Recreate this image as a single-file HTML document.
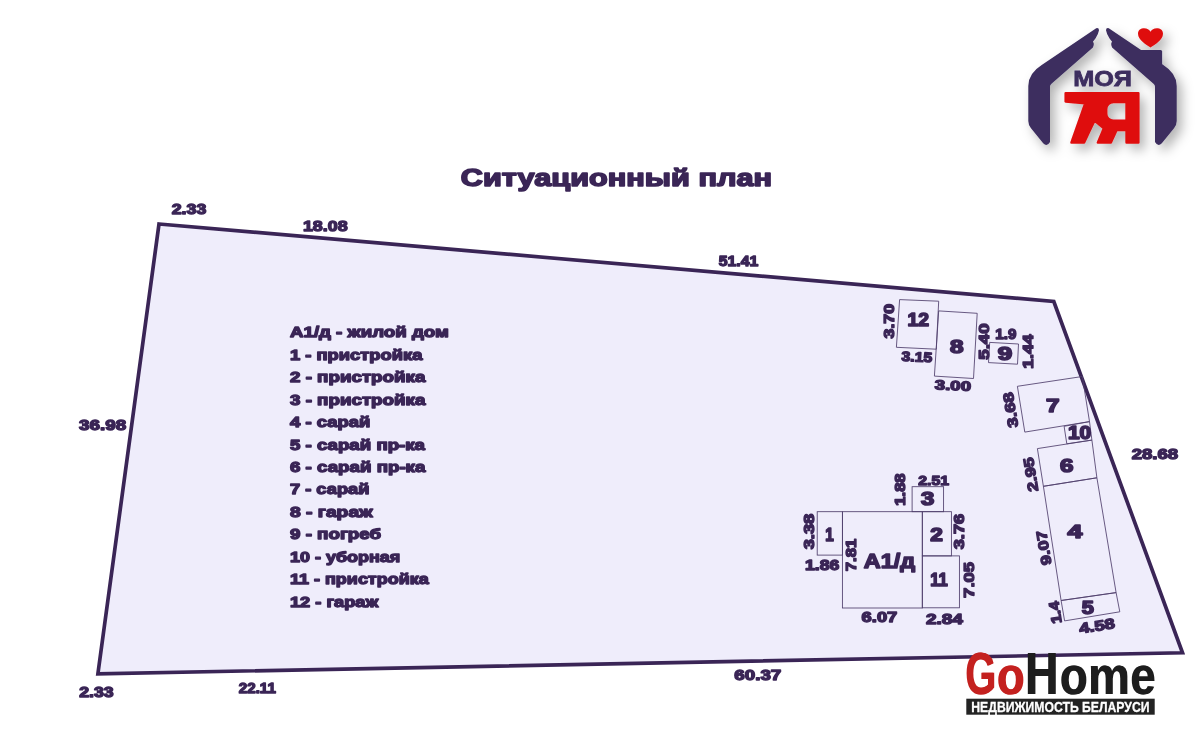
<!DOCTYPE html>
<html lang="ru"><head><meta charset="utf-8"><title>Ситуационный план</title>
<style>
html,body{margin:0;padding:0;background:#fff;}
body{width:1200px;height:742px;overflow:hidden;font-family:"Liberation Sans",sans-serif;}
svg{display:block;position:absolute;left:0;top:0;will-change:transform;}
text{font-family:"Liberation Sans",sans-serif;font-weight:bold;}
.t{fill:#3a2556;stroke:#3a2556;stroke-linejoin:round;paint-order:stroke;}
.b{fill:none;stroke:#4f3f6c;stroke-width:0.85;}
</style></head><body>
<svg width="1200" height="742" viewBox="0 0 1200 742">

<polygon points="159,224 1053.8,301.5 1182.5,652.8 97.9,673.8" fill="#efedfb" stroke="#3a2556" stroke-width="3.7" stroke-linejoin="miter"/>
<text class="t" x="460.8" y="185.6" font-size="24.6" stroke-width="1.6" textLength="311.2" lengthAdjust="spacingAndGlyphs">Ситуационный план</text>
<text class="t" x="290" y="337.0" font-size="14.3" stroke-width="1.3" textLength="158.8" lengthAdjust="spacingAndGlyphs">А1/д - жилой дом</text>
<text class="t" x="290" y="360.0" font-size="14.3" stroke-width="1.3" textLength="132.4" lengthAdjust="spacingAndGlyphs">1 - пристройка</text>
<text class="t" x="290" y="382.0" font-size="14.3" stroke-width="1.3" textLength="135.4" lengthAdjust="spacingAndGlyphs">2 - пристройка</text>
<text class="t" x="290" y="405.0" font-size="14.3" stroke-width="1.3" textLength="135.4" lengthAdjust="spacingAndGlyphs">3 - пристройка</text>
<text class="t" x="290" y="427.0" font-size="14.3" stroke-width="1.3" textLength="80.3" lengthAdjust="spacingAndGlyphs">4 - сарай</text>
<text class="t" x="290" y="450.0" font-size="14.3" stroke-width="1.3" textLength="135.0" lengthAdjust="spacingAndGlyphs">5 - сарай пр-ка</text>
<text class="t" x="290" y="472.0" font-size="14.3" stroke-width="1.3" textLength="135.4" lengthAdjust="spacingAndGlyphs">6 - сарай пр-ка</text>
<text class="t" x="290" y="494.0" font-size="14.3" stroke-width="1.3" textLength="79.4" lengthAdjust="spacingAndGlyphs">7 - сарай</text>
<text class="t" x="290" y="517.0" font-size="14.3" stroke-width="1.3" textLength="82.8" lengthAdjust="spacingAndGlyphs">8 - гараж</text>
<text class="t" x="290" y="539.0" font-size="14.3" stroke-width="1.3" textLength="91.0" lengthAdjust="spacingAndGlyphs">9 - погреб</text>
<text class="t" x="290" y="562.0" font-size="14.3" stroke-width="1.3" textLength="110.3" lengthAdjust="spacingAndGlyphs">10 - уборная</text>
<text class="t" x="290" y="584.0" font-size="14.3" stroke-width="1.3" textLength="138.7" lengthAdjust="spacingAndGlyphs">11 - пристройка</text>
<text class="t" x="290" y="607.0" font-size="14.3" stroke-width="1.3" textLength="88.3" lengthAdjust="spacingAndGlyphs">12 - гараж</text>
<text class="t" x="171.7" y="214.3" font-size="14.79" stroke-width="1.35" textLength="34.6" lengthAdjust="spacingAndGlyphs">2.33</text>
<text class="t" x="302.9" y="231.4" font-size="15.36" stroke-width="1.35" textLength="44.8" lengthAdjust="spacingAndGlyphs">18.08</text>
<text class="t" x="718.8" y="266.4" font-size="14.36" stroke-width="1.35" textLength="39.5" lengthAdjust="spacingAndGlyphs">51.41</text>
<text class="t" x="79.0" y="430.3" font-size="14.93" stroke-width="1.35" textLength="47.2" lengthAdjust="spacingAndGlyphs">36.98</text>
<text class="t" x="1131.7" y="459.1" font-size="14.64" stroke-width="1.35" textLength="46.5" lengthAdjust="spacingAndGlyphs">28.68</text>
<text class="t" x="79.2" y="696.8" font-size="14.79" stroke-width="1.35" textLength="34.5" lengthAdjust="spacingAndGlyphs">2.33</text>
<text class="t" x="238.8" y="693.3" font-size="14.21" stroke-width="1.35" textLength="37.1" lengthAdjust="spacingAndGlyphs">22.11</text>
<text class="t" x="734.3" y="680.3" font-size="14.79" stroke-width="1.35" textLength="47.0" lengthAdjust="spacingAndGlyphs">60.37</text>
<polygon class="b" points="899.6,299.6 938.7,301.2 936.3,349.2 896.4,347.3"/>
<polygon class="b" points="938.7,310.9 977.2,313.3 973.5,378.5 934.4,376.1"/>
<polygon class="b" points="989.7,342.4 1018.5,344.0 1017.5,364.2 988.5,362.6"/>
<text class="t" x="907.5" y="325.9" font-size="18.00" stroke-width="1.6" textLength="21.5" lengthAdjust="spacingAndGlyphs">12</text>
<text class="t" x="950.0" y="352.9" font-size="17.71" stroke-width="1.6" textLength="13.5" lengthAdjust="spacingAndGlyphs">8</text>
<text class="t" x="997.8" y="359.9" font-size="18.00" stroke-width="1.6" textLength="14.5" lengthAdjust="spacingAndGlyphs">9</text>
<text class="t" transform="translate(889.4,321.2) rotate(-90)" x="-17.2" y="5.0" font-size="14.21" stroke-width="1.35" textLength="34.4" lengthAdjust="spacingAndGlyphs">3.70</text>
<text class="t" transform="translate(916.9,356.8) rotate(3)" x="-15.4" y="4.7" font-size="13.50" stroke-width="1.35" textLength="30.8" lengthAdjust="spacingAndGlyphs">3.15</text>
<text class="t" transform="translate(952.9,385.5) rotate(3)" x="-18.1" y="4.7" font-size="13.50" stroke-width="1.35" textLength="36.3" lengthAdjust="spacingAndGlyphs">3.00</text>
<text class="t" transform="translate(983.6,341.6) rotate(-90)" x="-18.1" y="5.4" font-size="15.50" stroke-width="1.35" textLength="36.2" lengthAdjust="spacingAndGlyphs">5.40</text>
<text class="t" x="995.3" y="338.5" font-size="14.21" stroke-width="1.35" textLength="21.1" lengthAdjust="spacingAndGlyphs">1.9</text>
<text class="t" transform="translate(1027.8,351.6) rotate(-90)" x="-17.2" y="5.2" font-size="14.79" stroke-width="1.35" textLength="34.5" lengthAdjust="spacingAndGlyphs">1.44</text>
<polygon class="b" points="1017.4,386.3 1082.3,376.5 1089.5,421.6 1024.8,432.1"/>
<polygon class="b" points="1064.1,426.3 1089.5,421.6 1091.9,440.1 1066.8,443.8"/>
<polygon class="b" points="1037.4,448.6 1091.9,440.1 1096.9,477.8 1043.4,486.3"/>
<polygon class="b" points="1043.4,486.3 1096.9,477.8 1116.1,592.6 1061.1,600.5"/>
<polygon class="b" points="1061.1,600.5 1116.1,592.6 1119.8,611.8 1064.6,620.9"/>
<text class="t" x="1045.9" y="411.6" font-size="18.71" stroke-width="1.6" textLength="13.5" lengthAdjust="spacingAndGlyphs">7</text>
<text class="t" x="1067.9" y="438.7" font-size="18.43" stroke-width="1.6" textLength="23.2" lengthAdjust="spacingAndGlyphs">10</text>
<text class="t" x="1060.1" y="471.7" font-size="19.00" stroke-width="1.6" textLength="13.5" lengthAdjust="spacingAndGlyphs">6</text>
<text class="t" x="1067.6" y="538.0" font-size="18.43" stroke-width="1.6" textLength="14.8" lengthAdjust="spacingAndGlyphs">4</text>
<text class="t" x="1081.8" y="614.4" font-size="18.00" stroke-width="1.6" textLength="12.1" lengthAdjust="spacingAndGlyphs">5</text>
<text class="t" transform="translate(1010.5,410.0) rotate(-99)" x="-17.8" y="5.0" font-size="14.21" stroke-width="1.35" textLength="35.5" lengthAdjust="spacingAndGlyphs">3.68</text>
<text class="t" transform="translate(1030.7,474.6) rotate(-99)" x="-17.2" y="5.0" font-size="14.21" stroke-width="1.35" textLength="34.5" lengthAdjust="spacingAndGlyphs">2.95</text>
<text class="t" transform="translate(1043.8,548.0) rotate(-99)" x="-17.2" y="5.0" font-size="14.21" stroke-width="1.35" textLength="34.5" lengthAdjust="spacingAndGlyphs">9.07</text>
<text class="t" transform="translate(1055.1,612.6) rotate(-99)" x="-11.2" y="5.0" font-size="14.21" stroke-width="1.35" textLength="22.5" lengthAdjust="spacingAndGlyphs">1.4</text>
<text class="t" transform="translate(1096.9,625.8) rotate(-9)" x="-18.0" y="5.0" font-size="14.21" stroke-width="1.35" textLength="36.0" lengthAdjust="spacingAndGlyphs">4.58</text>
<rect class="b" x="817.2" y="511.7" width="25.2" height="43.4"/>
<rect class="b" x="842.4" y="511.7" width="79.9" height="96.3"/>
<rect class="b" x="922.3" y="511.7" width="29.1" height="44.2"/>
<rect class="b" x="922.3" y="555.9" width="37.1" height="51.9"/>
<rect class="b" x="912.1" y="486.7" width="31.5" height="25.0"/>
<text class="t" x="825.2" y="541.2" font-size="18.43" stroke-width="1.6" textLength="8.5" lengthAdjust="spacingAndGlyphs">1</text>
<text class="t" x="930.3" y="541.2" font-size="18.43" stroke-width="1.6" textLength="12.6" lengthAdjust="spacingAndGlyphs">2</text>
<text class="t" x="921.1" y="505.3" font-size="17.86" stroke-width="1.6" textLength="13.3" lengthAdjust="spacingAndGlyphs">3</text>
<text class="t" x="930.3" y="585.9" font-size="18.57" stroke-width="1.6" textLength="17.5" lengthAdjust="spacingAndGlyphs">11</text>
<text class="t" x="863.8" y="568.3" font-size="20.3" stroke-width="1.5" textLength="51.2" lengthAdjust="spacingAndGlyphs">А1/д</text>
<text class="t" transform="translate(808.8,531.6) rotate(-90)" x="-17.7" y="4.8" font-size="13.79" stroke-width="1.35" textLength="35.4" lengthAdjust="spacingAndGlyphs">3.38</text>
<text class="t" x="805.0" y="569.7" font-size="14.36" stroke-width="1.35" textLength="34.3" lengthAdjust="spacingAndGlyphs">1.86</text>
<text class="t" transform="translate(851.0,555.0) rotate(-90)" x="-16.2" y="5.0" font-size="14.36" stroke-width="1.35" textLength="32.3" lengthAdjust="spacingAndGlyphs">7.81</text>
<text class="t" transform="translate(900.0,489.5) rotate(-90)" x="-16.2" y="4.9" font-size="13.93" stroke-width="1.35" textLength="32.3" lengthAdjust="spacingAndGlyphs">1.88</text>
<text class="t" x="918.2" y="484.8" font-size="13.64" stroke-width="1.35" textLength="30.8" lengthAdjust="spacingAndGlyphs">2.51</text>
<text class="t" transform="translate(959.3,531.6) rotate(-90)" x="-17.7" y="4.8" font-size="13.79" stroke-width="1.35" textLength="35.4" lengthAdjust="spacingAndGlyphs">3.76</text>
<text class="t" transform="translate(968.9,579.9) rotate(-90)" x="-18.0" y="5.4" font-size="15.50" stroke-width="1.35" textLength="36.0" lengthAdjust="spacingAndGlyphs">7.05</text>
<text class="t" x="861.6" y="622.4" font-size="14.36" stroke-width="1.35" textLength="35.7" lengthAdjust="spacingAndGlyphs">6.07</text>
<text class="t" x="925.9" y="623.9" font-size="14.79" stroke-width="1.35" textLength="37.1" lengthAdjust="spacingAndGlyphs">2.84</text>
<text transform="translate(965.08,694.3) scale(0.668,1.0)" font-size="59.0" fill="#c4211f">G</text>
<text transform="translate(965.98,694.3) scale(0.668,1.0)" font-size="59.0" fill="#c4211f">G</text>
<text transform="translate(996.54,694.3) scale(0.766,0.91)" font-size="59.0" fill="#c4211f">o</text>
<text transform="translate(997.44,694.3) scale(0.766,0.91)" font-size="59.0" fill="#c4211f">o</text>
<text transform="translate(1024.82,694.3) scale(0.778,1.0)" font-size="59.0" fill="#1d1d1d">H</text>
<text transform="translate(1025.72,694.3) scale(0.778,1.0)" font-size="59.0" fill="#1d1d1d">H</text>
<text transform="translate(1059.49,694.3) scale(0.766,0.91)" font-size="59.0" fill="#1d1d1d">o</text>
<text transform="translate(1060.39,694.3) scale(0.766,0.91)" font-size="59.0" fill="#1d1d1d">o</text>
<text transform="translate(1087.70,694.3) scale(0.797,0.91)" font-size="59.0" fill="#1d1d1d">m</text>
<text transform="translate(1088.60,694.3) scale(0.797,0.91)" font-size="59.0" fill="#1d1d1d">m</text>
<text transform="translate(1129.92,694.3) scale(0.772,0.91)" font-size="59.0" fill="#1d1d1d">e</text>
<text transform="translate(1130.82,694.3) scale(0.772,0.91)" font-size="59.0" fill="#1d1d1d">e</text>
<rect x="966.3" y="698.7" width="188.4" height="16" fill="#232323"/>
<text x="971.3" y="712" font-size="14.2" fill="#fff" stroke="#fff" stroke-width="0.3" textLength="178.2" lengthAdjust="spacingAndGlyphs">НЕДВИЖИМОСТЬ БЕЛАРУСИ</text>
<defs><filter id="sh" x="-20%" y="-20%" width="150%" height="150%"><feDropShadow dx="5" dy="6" stdDeviation="6" flood-color="#000" flood-opacity="0.3"/></filter></defs>
<g filter="url(#sh)">
<path d="M1096.2,28.2 L1041.7,65.1 Q1028.3,73.5 1028.3,86 L1028.3,121 Q1028.3,125 1031,128.3 L1043.2,143.3 Q1047,147.2 1050,142 L1050,86.6 Q1050,85 1051.2,84 L1092.9,47.5 Q1094.2,45.5 1093.7,42.9 L1092.9,41.8 L1095.6,38.3 Q1098.5,33.5 1099,30.2 Q1099,27.6 1096.2,28.2 Z" fill="#3d2e5f"/>
<g transform="translate(2205,0) scale(-1,1)"><path d="M1096.2,28.2 L1041.7,65.1 Q1028.3,73.5 1028.3,86 L1028.3,121 Q1028.3,125 1031,128.3 L1043.2,143.3 Q1047,147.2 1050,142 L1050,86.6 Q1050,85 1051.2,84 L1092.9,47.5 Q1094.2,45.5 1093.7,42.9 L1092.9,41.8 L1095.6,38.3 Q1098.5,33.5 1099,30.2 Q1099,27.6 1096.2,28.2 Z" fill="#3d2e5f"/></g>
<path d="M1140,50.1 L1160.6,50.1 Q1162.1,50.1 1162.1,51.6 L1162.1,66 L1150,70 L1139,56 Z" fill="#3d2e5f"/>
<path d="M1150.5,47.5 C1146,44.5 1138,40 1138,33.8 C1138,30 1141,28.3 1144.2,28.3 C1147,28.3 1149.3,29.6 1150.5,31.8 C1151.7,29.6 1154,28.3 1156.8,28.3 C1160,28.3 1163,30 1163,33.8 C1163,40 1155,44.5 1150.5,47.5 Z" fill="#df0c0f"/>
<text x="1073.3" y="85.6" font-size="22.5" fill="#3d2e5f" stroke="#3d2e5f" stroke-width="0.8" textLength="58.6" lengthAdjust="spacingAndGlyphs">МОЯ</text>
<path fill-rule="evenodd" fill="#df0c0f" stroke="#df0c0f" stroke-width="2.4" stroke-linejoin="round" d="M1065.6,93.2 L1138.4,93.2 L1138.4,142.6 L1126.5,142.6 L1126.5,130.1 L1116.6,130.1 L1110.9,142.6 L1097.8,142.6 L1103.9,128.2 L1094.5,120.6 L1084.1,142.6 L1071.4,142.6 L1085.2,103.4 L1065.6,101.6 Z M1126.5,102.1 L1113.4,102.1 A7.2,7.2 0 0 0 1106.2,109.3 L1106.2,113.4 A7.2,7.2 0 0 0 1113.4,120.6 L1126.5,120.6 Z"/>
</g>
</svg></body></html>
